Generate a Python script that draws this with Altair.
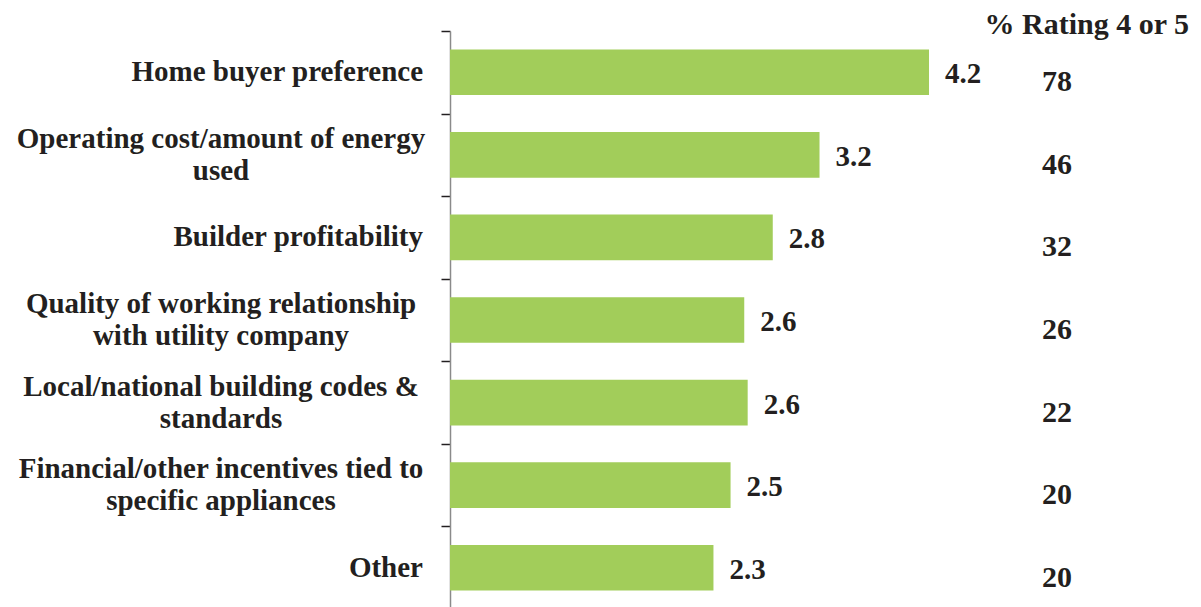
import altair as alt
import pandas as pd

categories = [
    "Home buyer preference",
    "Operating cost/amount of energy\nused",
    "Builder profitability",
    "Quality of working relationship\nwith utility company",
    "Local/national building codes &\nstandards",
    "Financial/other incentives tied to\nspecific appliances",
    "Other",
]
mean_ratings = [4.20, 3.24, 2.83, 2.58, 2.61, 2.46, 2.31]
pct_rating_4_or_5 = [78, 46, 32, 26, 22, 20, 20]
header = "% Rating 4 or 5"

df = pd.DataFrame({"cat": categories, "mean": mean_ratings, "pct": pct_rating_4_or_5})

FONT = "Times New Roman, Liberation Serif, Times, serif"
TXT = "#231f20"
GREEN = "#a2cd5a"

yenc = alt.Y(
    "cat:N",
    sort=categories,
    scale=alt.Scale(paddingInner=0, paddingOuter=0),
    axis=alt.Axis(
        title=None, labels=False, tickBand="extent", tickSize=9, tickWidth=1.5,
        tickColor=TXT, domainColor="#8a8a8a", domainWidth=1.5, grid=False,
    ),
)
xenc = alt.X("mean:Q", scale=alt.Scale(domain=[0, 6.462], nice=False, zero=True), axis=None)

base = alt.Chart(df)

bars = base.mark_bar(color=GREEN, height=alt.RelativeBandSize(0.553)).encode(x=xenc, y=yenc)

values = base.mark_text(
    align="left", baseline="middle", dx=16, dy=2, font=FONT, fontWeight="bold",
    fontSize=29, color=TXT,
).encode(x=xenc, y=alt.Y("cat:N", sort=categories), text=alt.Text("mean:Q", format=".1f"))

pcts = base.mark_text(
    align="center", baseline="middle", dy=10, font=FONT, fontWeight="bold",
    fontSize=30, color=TXT,
).encode(x=alt.value(607), y=alt.Y("cat:N", sort=categories), text="pct:Q")

single = base.transform_filter("indexof(datum.cat, '\\n') < 0").mark_text(
    align="right", baseline="middle", font=FONT, fontWeight="bold", fontSize=29, color=TXT,
).encode(x=alt.value(-27), y=alt.Y("cat:N", sort=categories), text="cat:N")

multi = base.transform_filter("indexof(datum.cat, '\\n') >= 0").mark_text(
    align="center", baseline="middle", dy=-16, font=FONT, fontWeight="bold", fontSize=29,
    color=TXT, lineBreak="\n", lineHeight=32,
).encode(x=alt.value(-229), y=alt.Y("cat:N", sort=categories), text="cat:N")

head = alt.Chart(pd.DataFrame({"h": [header]})).mark_text(
    align="right", baseline="middle", dx=2, font=FONT, fontWeight="bold", fontSize=30, color=TXT,
).encode(x=alt.value(737), y=alt.value(-6), text="h:N")

chart = alt.layer(bars, values, pcts, single, multi, head).properties(
    width=737, height=578,
    autosize=alt.AutoSizeParams(type="none"),
    padding={"left": 442, "top": 23, "right": 5, "bottom": 0},
).configure_view(stroke=None)

chart.save("out.html", embed_options={"renderer": "svg", "actions": False})
